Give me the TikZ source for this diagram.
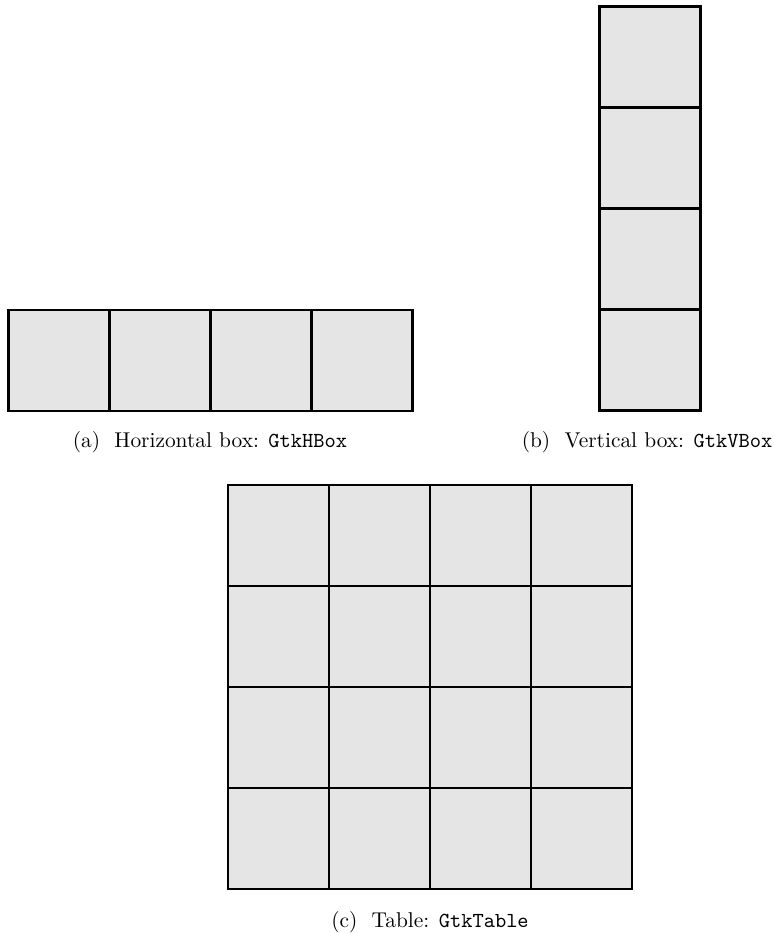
\documentclass[tikz,border=0pt]{standalone}
\begin{document}
\begin{tikzpicture}[x=0.5pt,y=-0.5pt,
    cell/.style={draw,fill=gray!20,line width=1.3pt,minimum size=50.5pt,
      inner sep=0pt,outer sep=0pt},
    every node/.style={font=\fontsize{10.7}{13}\selectfont}]
  \useasboundingbox (0,0) rectangle (774,933);
  % horizontal box
  \foreach \i in {1,...,4}{ \node[cell] (h\i) at (8.5+101*\i-50.5,360.5) {}; }
  \node (capa) at (210,442) {(a)~ Horizontal box: \texttt{GtkHBox}};
  % vertical box
  \foreach \j in {1,...,4}{ \node[cell] (v\j) at (650,6.5+101*\j-50.5) {}; }
  \node (capb) at (647,442) {(b)~ Vertical box: \texttt{GtkVBox}};
  % table
  \foreach \i in {1,...,4}{ \foreach \j in {1,...,4}{
    \node[cell] (t\i\j) at (228+101*\i-50.5,485+101*\j-50.5) {}; }}
  \node (capc) at (430,922) {(c)~ Table: \texttt{GtkTable}};
\end{tikzpicture}
\end{document}
